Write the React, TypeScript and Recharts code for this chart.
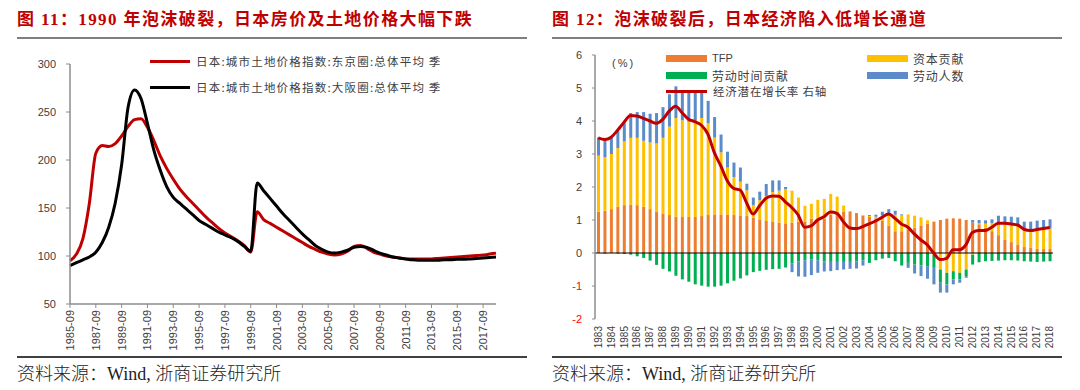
import { LineChart, Line, XAxis, YAxis, ComposedChart, Bar, ReferenceLine } from "recharts";

// 图11：城市土地价格指数（半年度）
const landDates = [
  "1985-09", "1986-03", "1986-09", "1987-03", "1987-09", "1988-03", "1988-09", "1989-03", "1989-09", "1990-03",
  "1990-09", "1991-03", "1991-09", "1992-03", "1992-09", "1993-03", "1993-09", "1994-03", "1994-09", "1995-03",
  "1995-09", "1996-03", "1996-09", "1997-03", "1997-09", "1998-03", "1998-09", "1999-03", "1999-09", "2000-03",
  "2000-09", "2001-03", "2001-09", "2002-03", "2002-09", "2003-03", "2003-09", "2004-03", "2004-09", "2005-03",
  "2005-09", "2006-03", "2006-09", "2007-03", "2007-09", "2008-03", "2008-09", "2009-03", "2009-09", "2010-03",
  "2010-09", "2011-03", "2011-09", "2012-03", "2012-09", "2013-03", "2013-09", "2014-03", "2014-09", "2015-03",
  "2015-09", "2016-03", "2016-09", "2017-03", "2017-09", "2018-03", "2018-09",
];
const tokyo = [
  95, 102, 118, 155, 207, 215, 214, 217, 225, 235,
  242, 243, 234, 220, 204, 191, 180, 170, 162, 155,
  148, 141, 135, 129, 124, 120, 116, 111, 104, 146,
  138, 134, 130, 126, 122, 118, 114, 110, 107, 104,
  102, 101, 102, 105, 110, 111, 108, 104, 102, 100,
  99, 98, 97, 97, 97, 97, 97, 97.5, 98, 98.5,
  99, 99.5, 100, 100.5, 101, 102, 103,
];
const osaka = [
  90, 93, 96, 99, 104, 114, 130, 155, 195, 255,
  273, 264, 238, 210, 189, 172, 161, 155, 149, 143,
  137, 133, 129, 125, 122, 119, 115, 110, 105, 176,
  168, 160, 152, 144, 137, 130, 123, 117, 111, 107,
  104, 103, 104, 106, 109, 110, 109, 106, 103, 101,
  99, 98, 97, 96, 95.5, 95.5, 95.5, 95.5, 96, 96,
  96.5, 96.5, 97, 97.5, 98, 98.5, 99,
];
const landTicks = [50, 100, 150, 200, 250, 300];

// 图12：潜在增长率分解（半年度）
const periods = [
  "1983H1", "1983H2", "1984H1", "1984H2", "1985H1", "1985H2", "1986H1", "1986H2", "1987H1", "1987H2",
  "1988H1", "1988H2", "1989H1", "1989H2", "1990H1", "1990H2", "1991H1", "1991H2", "1992H1", "1992H2",
  "1993H1", "1993H2", "1994H1", "1994H2", "1995H1", "1995H2", "1996H1", "1996H2", "1997H1", "1997H2",
  "1998H1", "1998H2", "1999H1", "1999H2", "2000H1", "2000H2", "2001H1", "2001H2", "2002H1", "2002H2",
  "2003H1", "2003H2", "2004H1", "2004H2", "2005H1", "2005H2", "2006H1", "2006H2", "2007H1", "2007H2",
  "2008H1", "2008H2", "2009H1", "2009H2", "2010H1", "2010H2", "2011H1", "2011H2", "2012H1", "2012H2",
  "2013H1", "2013H2", "2014H1", "2014H2", "2015H1", "2015H2", "2016H1", "2016H2", "2017H1", "2017H2",
  "2018H1",
];
const tfp = [
  1.25, 1.28, 1.33, 1.4, 1.45, 1.46, 1.45, 1.4, 1.33, 1.26,
  1.2, 1.15, 1.1, 1.09, 1.09, 1.09, 1.12, 1.15, 1.17, 1.17,
  1.17, 1.15, 1.14, 1.12, 1.07, 1.02, 0.97, 0.94, 0.92, 0.9,
  0.92, 0.95, 0.94, 1.04, 1.04, 1.04, 1.16, 1.21, 1.26, 1.26,
  1.21, 1.13, 1.09, 1.05, 0.97, 0.82, 0.66, 0.66, 0.71, 0.77,
  0.82, 0.89, 0.95, 1.0, 1.04, 1.05, 1.04, 1.0, 0.92, 0.87,
  0.77, 0.66, 0.54, 0.41, 0.33, 0.26, 0.18, 0.15, 0.13, 0.12,
  0.12,
];
const capital = [
  1.7, 1.62, 1.67, 1.78, 1.93, 2.03, 2.04, 2.0, 2.02, 2.06,
  2.29, 2.68, 2.99, 2.93, 2.89, 2.93, 2.97, 2.78, 2.33, 1.88,
  1.42, 1.15, 1.02, 0.78, 0.38, 0.58, 0.76, 0.91, 0.97, 1.04,
  0.97, 0.73, 0.49, 0.45, 0.57, 0.6, 0.63, 0.5, 0.18, 0.0,
  0.0, 0.02, 0.03, 0.05, 0.18, 0.37, 0.5, 0.48, 0.46, 0.36,
  0.26, 0.1, -0.05, -0.5, -0.6, -0.55, -0.6, -0.5, -0.05, 0.03,
  0.12, 0.25, 0.4, 0.5, 0.55, 0.57, 0.55, 0.55, 0.57, 0.6,
  0.62,
];
const hours = [
  0, -0.02, 0, -0.02, -0.03, -0.05, -0.1, -0.15, -0.23, -0.36,
  -0.48, -0.56, -0.69, -0.8, -0.87, -0.95, -0.99, -1.02, -1.02, -0.99,
  -0.92, -0.84, -0.77, -0.68, -0.58, -0.54, -0.51, -0.49, -0.48, -0.44,
  -0.31, -0.25, -0.22, -0.2, -0.22, -0.25, -0.27, -0.27, -0.27, -0.27,
  -0.26, -0.22, -0.3, -0.22, -0.17, -0.15, -0.25, -0.38, -0.3, -0.35,
  -0.38, -0.4, -0.4, -0.4, -0.35, -0.25, -0.2, -0.2, -0.3, -0.28,
  -0.25, -0.24, -0.23, -0.22, -0.22, -0.23, -0.25, -0.26, -0.27, -0.26,
  -0.25,
];
const workers = [
  0.55, 0.56, 0.5, 0.52, 0.55, 0.75, 0.78, 0.87, 0.87, 0.92,
  0.93, 0.98, 0.96, 0.91, 0.9, 0.86, 0.76, 0.68, 0.62, 0.54,
  0.48, 0.44, 0.43, 0.2, 0.23, 0.26, 0.36, 0.35, 0.31, 0.06,
  -0.27, -0.46, -0.5, -0.47, -0.38, -0.31, -0.28, -0.25, -0.23, -0.21,
  -0.21, -0.16, 0.03, 0.06, 0.1, 0.14, 0.12, 0.03, -0.15, -0.27,
  -0.32, -0.38, -0.5, -0.3, -0.25, -0.15, -0.1, -0.05, 0.08, 0.1,
  0.1, 0.11, 0.19, 0.2, 0.22, 0.25, 0.22, 0.25, 0.28, 0.28,
  0.28,
];
const potential = [
  3.49, 3.44, 3.51, 3.72, 3.96, 4.17, 4.15, 4.08, 4.0, 3.93,
  4.05, 4.3, 4.45, 4.25, 4.05, 3.98, 3.87, 3.6, 3.04, 2.64,
  2.19, 1.96, 1.91, 1.52, 1.18, 1.43, 1.66, 1.73, 1.72, 1.55,
  1.38, 1.15, 0.78, 0.82, 1.0, 1.1, 1.24, 1.2, 0.95, 0.76,
  0.74, 0.8, 0.88, 0.97, 1.08, 1.18, 1.05, 0.88, 0.78, 0.58,
  0.4, 0.25, 0.0, -0.2, -0.16, 0.1, 0.1, 0.25, 0.62, 0.68,
  0.68, 0.78, 0.9, 0.9, 0.88, 0.85, 0.72, 0.68, 0.71, 0.74,
  0.77,
];
const growthTicks = [-2, -1, 0, 1, 2, 3, 4, 5, 6];

const landData = landDates.map((d, i) => ({ date: d, tokyo: tokyo[i], osaka: osaka[i] }));
const growthData = periods.map((p, i) => ({
  period: p, tfp: tfp[i], capital: capital[i], hours: hours[i], workers: workers[i], potential: potential[i],
}));

const SANS = "Arial, 'Liberation Sans', sans-serif";
const CJK = "'Noto Sans CJK SC', sans-serif";
const SERIF = "'Liberation Serif', 'Times New Roman', 'Noto Sans CJK SC', serif";
const AXIS = "#8c8c8c";
const TEXT = "#404040";
const RED = "#C00000";

const COLORS = { tfp: "#ED7D31", capital: "#FFC000", hours: "#00B050", workers: "#5B8BC9" };

function DateTick({ x, y, payload }: any) {
  return (
    <text x={x} y={y} dy={4} transform={`rotate(-90 ${x} ${y})`} textAnchor="end"
      fontSize={11} fill={TEXT} fontFamily={SANS}>
      {payload.value}
    </text>
  );
}

function YearTick({ x, y, payload }: any) {
  return (
    <text x={x} y={y} dy={3.5} transform={`rotate(-90 ${x} ${y})`} textAnchor="end"
      fontSize={10} fill={TEXT} fontFamily={SANS}>
      {String(payload.value).slice(0, 4)}
    </text>
  );
}

function GrowthYTick({ x, y, payload }: any) {
  const v = payload.value as number;
  return (
    <text x={x} y={y} dy="0.355em" textAnchor="end" fontSize={11} fontFamily={SANS}
      fill={v < 0 ? "#FF0000" : TEXT}>
      {v}
    </text>
  );
}

function Header({ left, text }: { left: number; text: string }) {
  return (
    <>
      <div style={{
        position: "absolute", left, top: 9, fontFamily: SERIF, fontWeight: 700, fontSize: 17,
        letterSpacing: 1.4, color: RED, whiteSpace: "nowrap", lineHeight: "22px",
      }}>{text}</div>
      <div style={{ position: "absolute", left, top: 37, width: 510, height: 2, background: "#7f7f7f" }} />
    </>
  );
}

function Footer({ left }: { left: number }) {
  return (
    <>
      <div style={{ position: "absolute", left, top: 356, width: 510, height: 1.5, background: "#404040" }} />
      <div style={{
        position: "absolute", left, top: 363, fontFamily: SERIF, fontWeight: 300, fontSize: 18, color: "#222",
        whiteSpace: "nowrap", lineHeight: "22px",
      }}>资料来源：Wind, 浙商证券研究所</div>
    </>
  );
}

function LineKey({ left, top, color, label, width = 40, spacing = 1 }: { left: number; top: number; color: string; label: string; width?: number; spacing?: number }) {
  return (
    <div style={{ position: "absolute", left, top: top - 8, height: 16, display: "flex", alignItems: "center", whiteSpace: "nowrap" }}>
      <div style={{ width, height: 3, background: color, marginRight: 6 }} />
      <span style={{ fontFamily: CJK, fontSize: 11.5, color: TEXT, letterSpacing: spacing }}>{label}</span>
    </div>
  );
}

function BoxKey({ left, top, color, label, latin }: { left: number; top: number; color: string; label: string; latin?: boolean }) {
  return (
    <div style={{ position: "absolute", left, top: top - 8, height: 16, display: "flex", alignItems: "center", whiteSpace: "nowrap" }}>
      <div style={{ width: 41, height: 7, background: color, marginRight: 5 }} />
      <span style={{ fontFamily: latin ? SANS : CJK, fontSize: latin ? 11 : 12, color: TEXT, letterSpacing: latin ? 0 : 0.8 }}>{label}</span>
    </div>
  );
}

export default function App() {
  return (
    <div style={{ position: "absolute", left: 0, top: 0, width: 1080, height: 390, background: "#fff", overflow: "hidden" }}>
      <Header left={17} text="图 11：1990 年泡沫破裂，日本房价及土地价格大幅下跌" />
      <Header left={552} text="图 12：泡沫破裂后，日本经济陷入低增长通道" />

      <div style={{ position: "absolute", left: 0, top: 0 }}>
        <LineChart width={540} height={390} data={landData} margin={{ top: 64, right: 44, bottom: 36, left: 30 }}>
          <XAxis dataKey="date" interval={3} height={50} tick={<DateTick />}
            axisLine={{ stroke: AXIS, strokeWidth: 1.5 }} tickLine={{ stroke: AXIS }} tickSize={4} tickMargin={2} />
          <YAxis domain={[50, 300]} ticks={landTicks} width={40} interval={0}
            axisLine={{ stroke: AXIS, strokeWidth: 1.5 }} tickLine={{ stroke: AXIS }} tickSize={4} tickMargin={10}
            tick={{ fill: TEXT, fontSize: 11, fontFamily: SANS }} />
          <Line type="monotone" dataKey="tokyo" stroke={RED} strokeWidth={3} dot={false} activeDot={false} isAnimationActive={false} />
          <Line type="monotone" dataKey="osaka" stroke="#000" strokeWidth={3} dot={false} activeDot={false} isAnimationActive={false} />
        </LineChart>
      </div>
      <LineKey left={150} top={61} color={RED} label="日本:城市土地价格指数:东京圈:总体平均 季" spacing={1.2} />
      <LineKey left={150} top={87} color="#000" label="日本:城市土地价格指数:大阪圈:总体平均 季" spacing={1.2} />

      <div style={{ position: "absolute", left: 540, top: 0 }}>
        <ComposedChart width={540} height={390} data={growthData} stackOffset="sign" barSize={3}
          margin={{ top: 55, right: 27, bottom: 36, left: 25 }}>
          <XAxis dataKey="period" interval={1} height={35} axisLine={false} tickLine={false}
            tickSize={0} tickMargin={7} tick={<YearTick />} />
          <YAxis domain={[-2, 6]} ticks={growthTicks} width={30} interval={0}
            axisLine={{ stroke: AXIS, strokeWidth: 1.5 }} tickLine={{ stroke: AXIS }} tickSize={3} tickMargin={10}
            tick={<GrowthYTick />} />
          <Bar dataKey="tfp" stackId="g" fill={COLORS.tfp} isAnimationActive={false} />
          <Bar dataKey="capital" stackId="g" fill={COLORS.capital} isAnimationActive={false} />
          <Bar dataKey="hours" stackId="g" fill={COLORS.hours} isAnimationActive={false} />
          <Bar dataKey="workers" stackId="g" fill={COLORS.workers} isAnimationActive={false} />
          <ReferenceLine y={0} stroke="#000" strokeWidth={1} />
          <Line type="monotone" dataKey="potential" stroke={RED} strokeWidth={3} dot={false} activeDot={false} isAnimationActive={false} />
        </ComposedChart>
      </div>
      <div style={{ position: "absolute", left: 612, top: 57, fontFamily: SANS, fontSize: 11, color: TEXT, letterSpacing: 2 }}>(%)</div>
      <BoxKey left={666} top={58} color={COLORS.tfp} label="TFP" latin />
      <BoxKey left={867} top={58} color={COLORS.capital} label="资本贡献" />
      <BoxKey left={666} top={75} color={COLORS.hours} label="劳动时间贡献" />
      <BoxKey left={867} top={75} color={COLORS.workers} label="劳动人数" />
      <LineKey left={666} top={91} color={RED} label="经济潜在增长率 右轴" width={41} spacing={0.8} />

      <Footer left={17} />
      <Footer left={552} />
    </div>
  );
}
